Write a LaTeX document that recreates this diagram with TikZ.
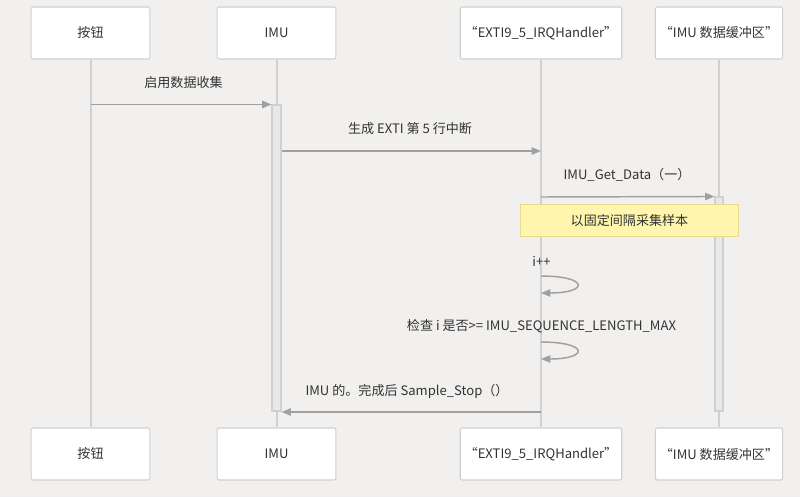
\documentclass[tikz,border=0pt]{standalone}
\usepackage{fontspec}
\setmainfont{Noto Sans CJK SC}
\usetikzlibrary{arrows.meta,positioning,fit}
\definecolor{bgG}{RGB}{241,240,238}
\definecolor{lifeG}{RGB}{208,208,208}
\definecolor{actG}{RGB}{232,232,232}
\definecolor{msgG}{RGB}{160,160,160}
\definecolor{txtD}{RGB}{51,51,51}
\definecolor{noteF}{RGB}{255,245,173}
\definecolor{noteD}{RGB}{232,218,140}
\newcommand{\TOPY}{33}
\newcommand{\BOTY}{454}

\begin{document}
\begin{tikzpicture}[
    x=0.75pt, y=-0.75pt,
    actor/.style={draw=lifeG, fill=white, rounded corners=1.5pt, line width=0.8pt,
                  minimum width=89pt, minimum height=39pt, text=txtD, font=\fontsize{9.8}{12}\selectfont},
    life/.style={draw=lifeG, line width=1.5pt},
    actbar/.style={draw=lifeG, fill=actG, line width=0.8pt, inner sep=0pt},
    msg/.style={draw=msgG, line width=1.1pt, -{Triangle[length=7pt,width=5.5pt]}},
    lbl/.style={text=txtD, font=\fontsize{9.8}{12}\selectfont, inner sep=1pt},
    note/.style={draw=noteD, fill=noteF, line width=0.8pt, minimum width=164pt,
                 minimum height=24.5pt, text=txtD, font=\fontsize{9.8}{12}\selectfont},
  ]
  \fill[bgG] (0,0) rectangle (800,497);
  \useasboundingbox (0,0) rectangle (800,497);

  %% ================= participants, top and bottom =================
  \foreach \n/\x/\t in {btn/90.5/按钮, imu/276.5/IMU,
      ex/541/“EXTI9\_5\_IRQHandler”, buf/719/“IMU 数据缓冲区”} {
    \node[actor] (\n T) at (\x,\TOPY) {\t};
    \node[actor] (\n B) at (\x,\BOTY) {\t};
  }
  \foreach \n in {btn,imu,ex,buf} {
    \draw[life] (\n T) -- (\n B);
  }

  % activation bars
  \node[actbar, fit={(272,105) (281,411)}] (imuAct) {};
  \node[actbar, fit={(715,197) (723,411)}] (bufAct) {};

  %% ================= messages =================
  \coordinate (m2) at (0,151);
  \coordinate (m3) at (0,197);
  \coordinate (m4) at (0,412);

  \node[lbl] (l1) at (183.5,83) {启用数据收集};
  \draw[msg] (btnT.south |- imuAct.north) -- (imuAct.north west);

  \node[lbl] (l2) at (410,129) {生成 EXTI 第 5 行中断};
  \draw[msg] (imuAct.east |- m2) -- (exT.south |- m2);

  \node[lbl] (l3) at (627,175) {IMU\_Get\_Data（一）};
  \draw[msg] (exT.south |- m3) -- (bufAct.north west);

  \node[note] (n1) at (629.5,220.5) {以固定间隔采集样本};

  % self calls on the handler
  \coordinate (s1a) at (541,276);
  \coordinate (s1b) at (541,293);
  \coordinate (s2a) at (541,342);
  \coordinate (s2b) at (541,359);
  \node[lbl] (l4) at (541.5,261) {i++};
  \draw[msg] (s1a) .. controls (589,276) and (589,293) .. (s1b);
  \node[lbl] (l5) at (541.5,326) {检查 i 是否>= IMU\_SEQUENCE\_LENGTH\_MAX};
  \draw[msg] (s2a) .. controls (589,342) and (589,359) .. (s2b);

  \node[lbl] (l6) at (407,391) {IMU 的。完成后 Sample\_Stop（）};
  \draw[msg] (exT.south |- m4) -- (imuAct.east |- m4);

\end{tikzpicture}
\end{document}
